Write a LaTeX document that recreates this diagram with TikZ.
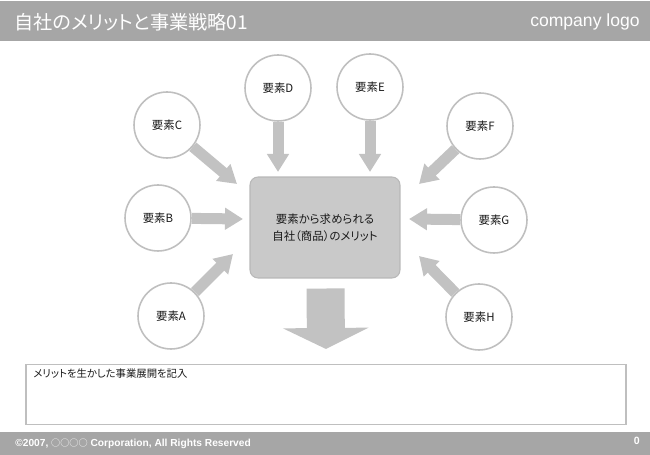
\documentclass[tikz,border=0pt]{standalone}
\usepackage{fontspec}
\setmainfont{Liberation Sans}
\newfontfamily\jp[RawFeature=+palt]{Noto Sans CJK JP}
\usetikzlibrary{arrows.meta,positioning}
\definecolor{bargray}{HTML}{A6A6A6}
\definecolor{linegray}{HTML}{BFBFBF}
\definecolor{boxgray}{HTML}{C9C9C9}
\definecolor{arrgray}{HTML}{C2C2C2}

\begin{document}
\begin{tikzpicture}[
  x=0.02cm, y=-0.02cm,
  font=\jp\fontsize{6.5}{9.5}\selectfont,
  elem/.style={circle, draw=linegray, line width=0.9pt, fill=white,
               minimum size=1.32cm, inner sep=0pt, text=black!90},
  center/.style={rectangle, rounded corners=0.16cm, fill=boxgray,
                 draw=black!28, line width=0.6pt, minimum width=3cm,
                 minimum height=2.02cm, align=center, text=black!90},
  push/.style={draw=arrgray, line width=0.22cm,
               -{Triangle[width=0.42cm,length=0.36cm]}},
  bigpush/.style={draw=arrgray, line width=0.76cm,
                  -{Triangle[width=1.7cm,length=0.42cm]}},
  bar/.style={fill=bargray},
  bartxt/.style={text=white, inner sep=0pt}
]
\useasboundingbox (0,0) rectangle (650,455);

% header and footer
\fill[bar] (0,1) rectangle (650,41);
\fill[bar] (0,432) rectangle (650,455);
\node[bartxt, anchor=west, font=\jp\fontsize{10.9}{12}\selectfont] (title) at (14,22)
  {自社のメリットと事業戦略01};
\node[bartxt, anchor=east, font=\fontsize{10}{12}\selectfont] (logo) at (640,22)
  {company logo};
\node[bartxt, anchor=west, font=\bfseries\fontsize{5.8}{7}\selectfont] (copy) at (15,444)
  {©2007, {\jp\mdseries\fontsize{5.2}{7}\selectfont ○○○○} Corporation, All Rights Reserved};
\node[bartxt, anchor=east, font=\bfseries\fontsize{6}{7}\selectfont] (page) at (640,441)
  {0};

% merit box
\node[center] (merit) at (325,227.5) {要素から求められる\\自社（商品）のメリット};

% elements
\node[elem] (eA) at (171,316) {要素A};
\node[elem] (eB) at (158,218) {要素B};
\node[elem] (eC) at (167,125) {要素C};
\node[elem] (eD) at (278,88)  {要素D};
\node[elem] (eE) at (370,87)  {要素E};
\node[elem] (eF) at (480,126) {要素F};
\node[elem] (eG) at (494,220) {要素G};
\node[elem] (eH) at (479,317) {要素H};

% arrow tips
\coordinate (tA) at (233,254);
\coordinate (tB) at (243,219);
\coordinate (tC) at (237,184);
\coordinate (tD) at (278,172);
\coordinate (tE) at (370,172);
\coordinate (tF) at (419,184);
\coordinate (tG) at (409,219);
\coordinate (tH) at (419,256);
\coordinate (tdown) at (326,349);

\foreach \e in {A,B,C,D,E,F,G,H}
  \draw[push] (e\e) -- (t\e);

\draw[bigpush, shorten <=0.2cm] (merit) -- (tdown);

% memo box
\node[draw=linegray, line width=1pt, minimum width=12cm, minimum height=1.2cm,
      inner sep=0pt] (memo) at (326,394.5) {};
\node[anchor=north west, inner sep=0pt, text=black!90,
      font=\jp\fontsize{5.9}{8}\selectfont] (memotxt) at (33,368)
  {メリットを生かした事業展開を記入};
\end{tikzpicture}
\end{document}
